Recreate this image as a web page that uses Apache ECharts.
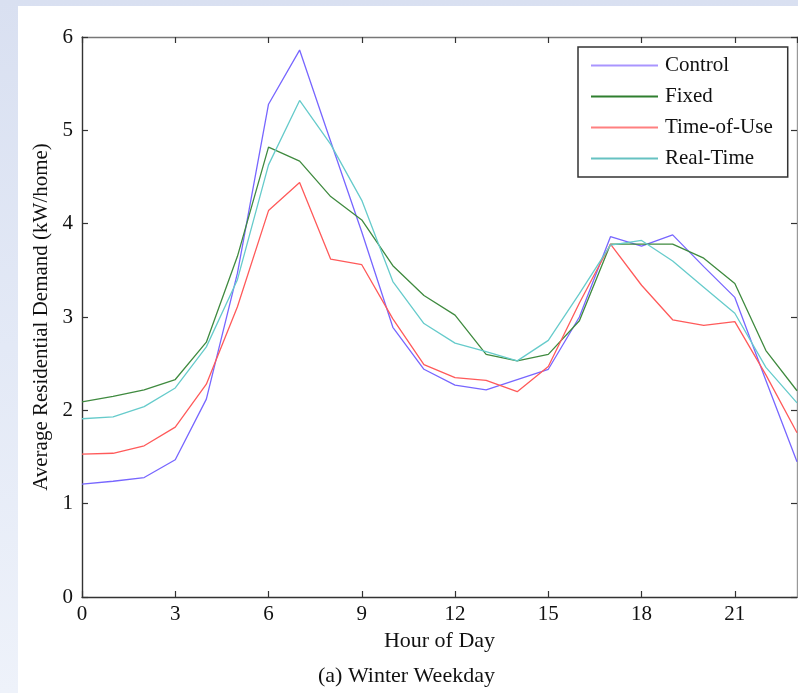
<!DOCTYPE html>
<html>
<head>
<meta charset="utf-8">
<script src="https://cdn.jsdelivr.net/npm/echarts@6/dist/echarts.min.js"></script>
<style>
  html, body { margin: 0; padding: 0; width: 798px; height: 693px; overflow: hidden; }
  body { background: linear-gradient(180deg, #d9e0f1 0%, #e3e9f6 50%, #eef2fa 100%); position: relative; }
  #paper { position: absolute; left: 18px; top: 6px; right: 0; bottom: 0; background: #ffffff; }
  #chart { position: absolute; left: 0; top: 0; width: 798px; height: 693px; }
</style>
</head>
<body>
<div id="paper"></div>
<div id="chart"></div>
<script>
const hours = [0,1,2,3,4,5,6,7,8,9,10,11,12,13,14,15,16,17,18,19,20,21,22,23];
const seriesNames = ['Control', 'Fixed', 'Time-of-Use', 'Real-Time'];
const control = [1.21,1.24,1.28,1.47,2.12,3.47,5.28,5.86,4.88,3.91,2.89,2.44,2.27,2.22,2.33,2.44,3.00,3.86,3.76,3.88,3.54,3.21,2.32,1.45];
const fixed   = [2.09,2.15,2.22,2.33,2.73,3.65,4.82,4.67,4.29,4.04,3.55,3.23,3.02,2.60,2.53,2.60,2.96,3.78,3.78,3.78,3.63,3.36,2.64,2.21];
const timeOfUse = [1.53,1.54,1.62,1.82,2.28,3.11,4.14,4.44,3.62,3.56,2.98,2.49,2.35,2.32,2.20,2.47,3.15,3.78,3.34,2.97,2.91,2.95,2.38,1.76];
const realTime  = [1.91,1.93,2.04,2.24,2.68,3.40,4.63,5.32,4.85,4.25,3.38,2.93,2.72,2.63,2.53,2.75,3.25,3.77,3.82,3.60,3.32,3.04,2.46,2.08];
const xTitle = 'Hour of Day';
const yTitle = 'Average Residential Demand (kW/home)';
const caption = '(a) Winter Weekday';

const values = [control, fixed, timeOfUse, realTime];
const colors = ['#7766ff', '#3f8a3f', '#ff5a5a', '#66cbcb'];
const legendColors = ['#a995ff', '#2f7f2f', '#ff8080', '#66c2c2'];
const font = 'Liberation Serif, Times New Roman, serif';

const chart = echarts.init(document.getElementById('chart'), null, {renderer: 'canvas'});
const tickStyle = { inside: true, length: 6, lineStyle: { color: '#333', width: 1.2 } };
chart.setOption({
  backgroundColor: 'transparent',
  animation: false,
  grid: { left: 82, top: 37, right: 1, bottom: 96 },
  legend: {
    orient: 'vertical',
    left: 578, top: 47,
    padding: [8, 15, 8, 13],
    backgroundColor: '#fff',
    borderColor: '#333', borderWidth: 1.5,
    itemWidth: 67, itemHeight: 2, itemGap: 10,
    icon: 'rect',
    textStyle: { fontFamily: font, fontSize: 21, color: '#111', lineHeight: 21, padding: [0, 0, 0, 2] },
    data: seriesNames.map((n, i) => ({ name: n, itemStyle: { color: legendColors[i] } }))
  },
  xAxis: [
    {
      type: 'value', min: 0, max: 23, interval: 3,
      position: 'bottom',
      splitLine: { show: false },
      axisTick: tickStyle,
      axisLine: { onZero: false, lineStyle: { color: '#333', width: 1.4 } },
      axisLabel: { showMaxLabel: false, margin: 7, fontFamily: font, fontSize: 21, color: '#111' },
      name: xTitle, nameLocation: 'middle', nameGap: 32,
      nameTextStyle: { fontFamily: font, fontSize: 22, color: '#111' }
    },
    {
      type: 'value', min: 0, max: 23, interval: 3,
      position: 'top',
      splitLine: { show: false },
      axisTick: tickStyle,
      axisLine: { onZero: false, lineStyle: { color: '#777', width: 1.4 } },
      axisLabel: { show: false }
    }
  ],
  yAxis: [
    {
      type: 'value', min: 0, max: 6, interval: 1,
      position: 'left',
      splitLine: { show: false },
      axisTick: tickStyle,
      axisLine: { onZero: false, lineStyle: { color: '#333', width: 1.4 } },
      axisLabel: { margin: 9, fontFamily: font, fontSize: 21, color: '#111' },
      name: yTitle, nameLocation: 'middle', nameGap: 26,
      nameTextStyle: { fontFamily: font, fontSize: 21, color: '#111' }
    },
    {
      type: 'value', min: 0, max: 6, interval: 1,
      position: 'right',
      splitLine: { show: false },
      axisTick: tickStyle,
      axisLine: { onZero: false, lineStyle: { color: '#999', width: 1.4 } },
      axisLabel: { show: false }
    }
  ],
  graphic: [{
    type: 'text', left: 417 - 99, top: 665,
    style: { text: caption, font: '22px ' + font, fill: '#111' }
  }],
  series: seriesNames.map((name, i) => ({
    name: name,
    type: 'line',
    symbol: 'none',
    xAxisIndex: 0, yAxisIndex: 0,
    color: colors[i],
    lineStyle: { width: 1.3, color: colors[i] },
    data: hours.map((h, j) => [h, values[i][j]])
  }))
});
</script>
</body>
</html>
